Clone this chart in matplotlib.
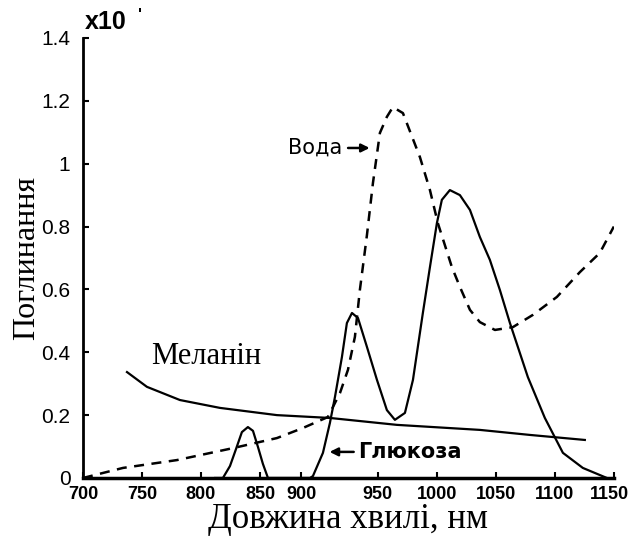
import matplotlib.pyplot as plt
from matplotlib.transforms import ScaledTranslation

# Вода (dashed)
water_nm = [700, 733.9, 779.7, 827.1, 864.4, 886.4, 907.6, 917.8, 924.6, 930.5, 934.7,
            940.7, 945.8, 951.7, 957.6, 962.7, 971.2, 985.6, 994.1, 1000.8, 1012.7,
            1019.5, 1028.0, 1036.4, 1049.2, 1064.4, 1081.4, 1101.7, 1121.2, 1138.1, 1150]
water_abs = [0, 0.032, 0.057, 0.095, 0.127, 0.159, 0.194, 0.270, 0.344, 0.449, 0.598,
             0.773, 0.939, 1.098, 1.149, 1.180, 1.161, 1.021, 0.916, 0.811, 0.671,
             0.608, 0.535, 0.496, 0.471, 0.480, 0.519, 0.576, 0.655, 0.716, 0.80]

# Глюкоза (solid)
glucose_nm = [812, 818.6, 824.6, 829.7, 834.7, 839.8, 844.1, 848.3, 852.5, 856.8,
              892.4, 894.9, 903.4, 909.3, 913.6, 919.5, 923.7, 928.0, 933.1, 940.7,
              949.2, 957.6, 964.4, 972.9, 979.7, 988.1, 994.1, 1000.0, 1004.2, 1011.0,
              1019.5, 1028.0, 1036.4, 1044.9, 1053.4, 1061.9, 1070.3, 1077.1, 1091.5,
              1106.8, 1123.7, 1144.1]
glucose_abs = [0, 0, 0.038, 0.092, 0.146, 0.162, 0.150, 0.099, 0.045, 0,
               0, 0.006, 0.080, 0.175, 0.258, 0.385, 0.493, 0.525, 0.509, 0.417,
               0.312, 0.216, 0.185, 0.207, 0.312, 0.525, 0.671, 0.811, 0.885, 0.916,
               0.900, 0.853, 0.767, 0.694, 0.598, 0.493, 0.398, 0.321, 0.191,
               0.080, 0.032, 0]

# Меланін (solid)
melanin_nm = [737.3, 754.2, 782.2, 816.1, 864.4, 909.3, 966.1, 1036.4, 1078.8, 1125.4]
melanin_abs = [0.337, 0.290, 0.248, 0.223, 0.200, 0.191, 0.169, 0.153, 0.137, 0.121]

# tick labels as printed on the original (the "900" label sits off-grid)
xtick_pos = [700, 750, 800, 850, 885, 950, 1000, 1050, 1100, 1150]
xtick_lbl = ['700', '750', '800', '850', '900', '950', '1000', '1050', '1100', '1150']
ytick_pos = [0, 0.2, 0.4, 0.6, 0.8, 1.0, 1.2, 1.4]
ytick_lbl = ['0', '0.2', '0.4', '0.6', '0.8', '1', '1.2', '1.4']

sans = ['Liberation Sans', 'DejaVu Sans']
serif = ['Liberation Serif', 'DejaVu Serif']

fig = plt.figure(figsize=(6.32, 5.37), dpi=100)
ax = fig.add_axes([0.1313, 0.1099, 0.840, 0.8194])

ax.plot(water_nm, water_abs, color='black', lw=1.8, ls=(0, (4, 3)))
ax.plot(glucose_nm, glucose_abs, color='black', lw=1.6)
ax.plot(melanin_nm, melanin_abs, color='black', lw=1.6)

ax.set_xlim(700, 1150)
ax.set_ylim(0, 1.4)
ax.spines['top'].set_visible(False)
ax.spines['right'].set_visible(False)
ax.spines['left'].set_linewidth(2)
ax.spines['bottom'].set_linewidth(2.5)

ax.set_xticks(xtick_pos)
ax.set_xticklabels(xtick_lbl, family=sans, fontsize=13, fontweight='bold')
ax.set_yticks(ytick_pos)
ax.set_yticklabels(ytick_lbl, family=sans, fontsize=15)
ax.tick_params(direction='in', length=4, width=1.5)
ax.tick_params(axis='x', pad=6)
ax.tick_params(axis='y', pad=9)

# keep the last x label inside the figure
last = ax.get_xticklabels()[-1]
last.set_transform(last.get_transform() + ScaledTranslation(-3 / 72, 0, fig.dpi_scale_trans))

ax.set_xlabel('Довжина хвилі, нм', family=serif, fontsize=25, labelpad=0)
ax.set_ylabel('Поглинання', family=serif, fontsize=23, labelpad=0)

ax.text(0.003, 1.01, 'x10', transform=ax.transAxes, family=sans, fontsize=18,
        fontweight='bold', va='bottom', ha='left')
ax.text(0.103, 1.068, "'", transform=ax.transAxes, family=sans, fontsize=12,
        fontweight='bold', va='top', ha='left')

ax.annotate('Вода', xy=(943, 1.05), xytext=(920, 1.05), family='DejaVu Sans',
            fontsize=15, va='center', ha='right',
            arrowprops=dict(arrowstyle='-|>', color='black', lw=1.8, mutation_scale=12,
                            shrinkA=2, shrinkB=0))
ax.annotate('Глюкоза', xy=(909, 0.083), xytext=(933, 0.083), family='DejaVu Sans',
            fontsize=15, fontweight='bold', va='center', ha='left',
            arrowprops=dict(arrowstyle='-|>', color='black', lw=1.8, mutation_scale=12,
                            shrinkA=1, shrinkB=0))
ax.text(758, 0.385, 'Меланін', family=serif, fontsize=22, va='center', ha='left')

fig.savefig('out.png', dpi=100)
